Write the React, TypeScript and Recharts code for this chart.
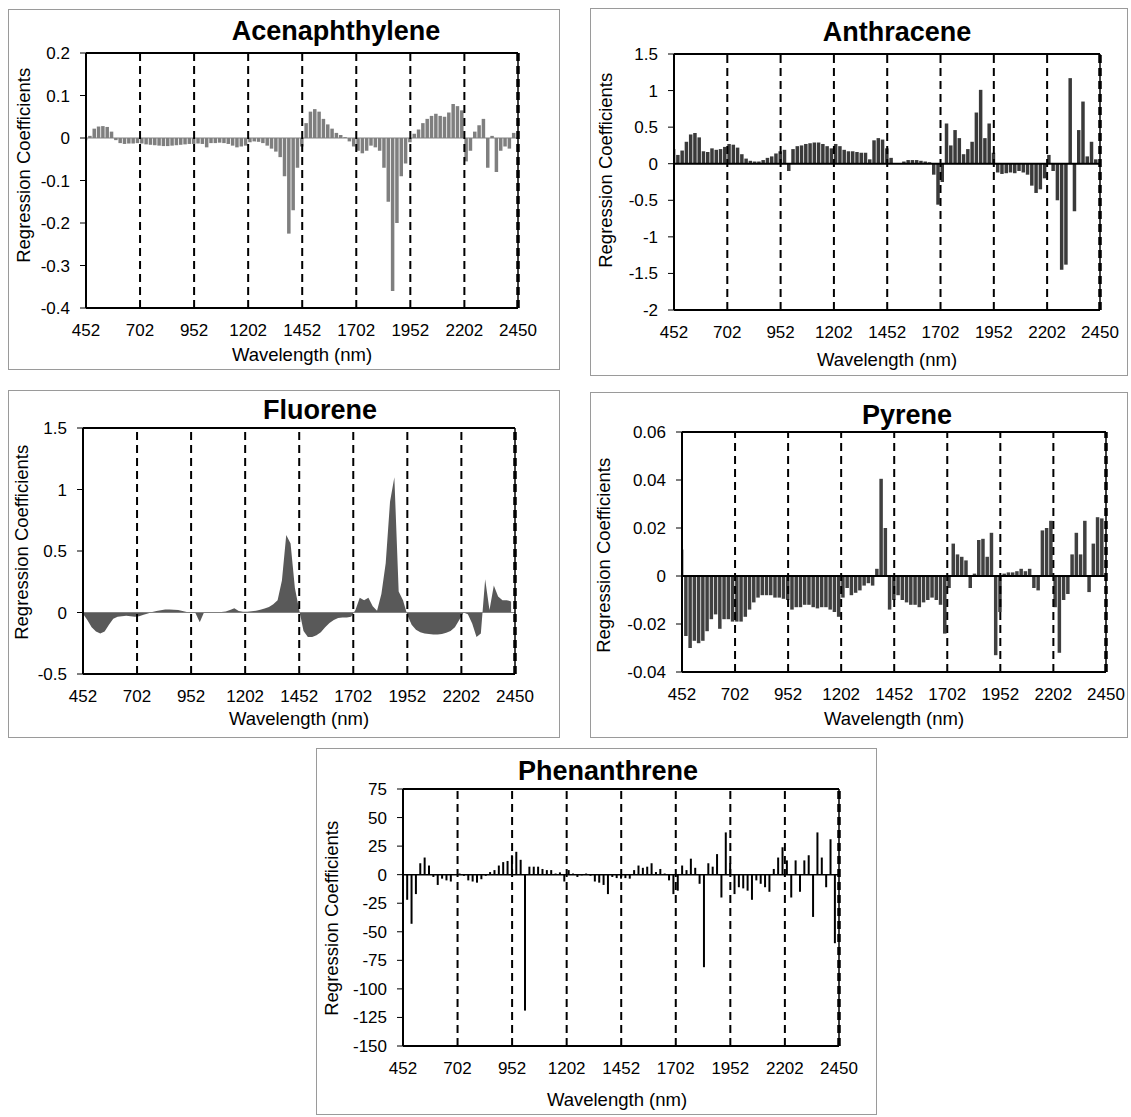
import { Area, AreaChart, Bar, BarChart, ReferenceLine, XAxis, YAxis } from "recharts"

const FONT = "Arial, 'Liberation Sans', sans-serif"

// wavelength grid, 20 nm steps
const WAVELENGTHS = Array.from({ length: 100 }, (_, i) => 452 + i * 20)
const X_TICKS = [452, 702, 952, 1202, 1452, 1702, 1952, 2202, 2450]
const DASHED_AT = [702, 952, 1202, 1452, 1702, 1952, 2202]

const ACENAPHTHYLENE = [
  -0.005, 0.005, 0.022, 0.027, 0.028, 0.026, 0.015, -0.005, -0.012, -0.014,
  -0.013, -0.013, -0.012, -0.013, -0.015, -0.016, -0.017, -0.018, -0.019, -0.019,
  -0.018, -0.017, -0.016, -0.015, -0.014, -0.014, -0.013, -0.014, -0.022, -0.012,
  -0.012, -0.011, -0.012, -0.014, -0.018, -0.022, -0.02, -0.018, -0.01, -0.008,
  -0.009, -0.012, -0.018, -0.025, -0.032, -0.045, -0.09, -0.225, -0.17, -0.07,
  -0.02, 0.035, 0.062, 0.068, 0.062, 0.045, 0.032, 0.022, 0.012, 0.007,
  0.002, -0.008, -0.02, -0.03, -0.036, -0.03, -0.018, -0.022, -0.03, -0.07,
  -0.15, -0.36, -0.2, -0.09, -0.06, -0.01, 0.01, 0.02, 0.035, 0.045,
  0.052, 0.057, 0.052, 0.05, 0.06, 0.08, 0.075, 0.065, -0.055, -0.03,
  0.015, 0.03, 0.045, -0.07, 0.005, -0.08, -0.03, -0.02, -0.025, 0.012,
]
const ANTHRACENE = [
  0.2, 0.12, 0.18, 0.3, 0.4, 0.42, 0.36, 0.17, 0.16, 0.21,
  0.19, 0.2, 0.23, 0.27, 0.26, 0.22, 0.13, 0.07, 0.04, 0.03,
  0.03, 0.05, 0.08, 0.1, 0.14, 0.17, 0.19, -0.1, 0.2, 0.24,
  0.25, 0.27, 0.28, 0.29, 0.29, 0.27, 0.24, 0.21, 0.27, 0.24,
  0.19, 0.17, 0.17, 0.16, 0.15, 0.15, 0.06, 0.32, 0.35, 0.33,
  0.21, 0.08, 0.01, 0.0, 0.03, 0.05, 0.05, 0.05, 0.04, 0.03,
  0.02, -0.15, -0.56, -0.25, 0.55, 0.25, 0.46, 0.35, 0.13, 0.2,
  0.3, 0.7, 1.01, 0.35, 0.55, 0.15, -0.12, -0.14, -0.13, -0.12,
  -0.13, -0.1, -0.12, -0.15, -0.3, -0.4, -0.35, -0.2, 0.12, -0.1,
  -0.5, -1.45, -1.38, 1.17, -0.65, 0.46, 0.85, 0.1, 0.3, 0.06,
]
const FLUORENE = [
  -0.01, -0.06, -0.12, -0.155, -0.17, -0.155, -0.1, -0.05, -0.035, -0.03,
  -0.027, -0.03, -0.035, -0.03, -0.018, -0.008, 0.005, 0.012, 0.018, 0.024,
  0.025, 0.022, 0.02, 0.012, 0.005, 0.0, -0.005, -0.08, 0.002, 0.003,
  0.003, 0.004, 0.005, 0.008, 0.02, 0.035, 0.012, 0.006, 0.006, 0.01,
  0.015, 0.022, 0.032, 0.045, 0.068, 0.1, 0.26, 0.63, 0.56, 0.2,
  0.02, -0.15, -0.2, -0.2, -0.185, -0.16, -0.12, -0.085, -0.06, -0.045,
  -0.04, -0.04, -0.035, 0.02, 0.12, 0.1, 0.12, 0.05, 0.015, 0.15,
  0.4, 0.9, 1.1, 0.17, 0.1, -0.02, -0.1, -0.14, -0.16, -0.17,
  -0.175, -0.178, -0.178, -0.175, -0.165, -0.15, -0.12, -0.06, 0.0, -0.015,
  -0.09, -0.2, -0.17, 0.27, 0.02, 0.22, 0.13, 0.1, 0.1, 0.09,
]
const PYRENE = [
  0.011, -0.025, -0.03, -0.027, -0.028, -0.027, -0.023, -0.018, -0.016, -0.022,
  -0.018, -0.018, -0.019, -0.019, -0.019, -0.017, -0.014, -0.011, -0.009, -0.008,
  -0.008, -0.008, -0.009, -0.009, -0.0095, -0.01, -0.014, -0.013, -0.013, -0.012,
  -0.012, -0.013, -0.0135, -0.013, -0.013, -0.014, -0.015, -0.017, -0.009, -0.005,
  -0.008, -0.007, -0.006, -0.004, -0.003, -0.004, 0.003, 0.0405, 0.02, -0.014,
  -0.01, -0.008, -0.01, -0.011, -0.012, -0.012, -0.013, -0.011, -0.01, -0.009,
  -0.01, -0.012, -0.024, -0.005, 0.0135, 0.009, 0.008, 0.0065, -0.005, 0.001,
  0.015, 0.0155, 0.008, 0.018, -0.033, -0.015, 0.001, 0.0015, 0.0015, 0.002,
  0.003, 0.002, 0.003, -0.005, -0.006, 0.019, 0.02, 0.023, -0.013, -0.032,
  -0.01, -0.0075, 0.009, 0.018, 0.009, 0.023, -0.0067, 0.0135, 0.0245, 0.024,
]
const PHENANTHRENE = [
  43, -22, -43, -17, 10, 15, 8, -2, -9, -3.5,
  -5, -6, 0.5, 1, -1, -5, -6, -7, -4, -1,
  2.3, 4, 8, 11, 12, 17, 20, 13, -119, 7,
  7, 7, 5, 4, 4, 1, 2, -6, 4, 1,
  -2, -0.6, 1, -1, -6, -7, -9, -17, -2, -3,
  -3.5, -3, -3.5, 4, 8, 6, 7, 10, 2.3, 5,
  1, -5, -17, -14, 8, 4, 14, 6, -8, -81,
  10, 7, 18, -20, 37, 10, -17, -11, -12, -14,
  -22, -5, -8, -11, -15, 5, 15, 24, 12.5, -20,
  12.5, -15, 12.5, 17, -37, 37, 15, -11, 31, -60,
]

const ACE_TICKS = [-0.4, -0.3, -0.2, -0.1, 0, 0.1, 0.2]
const ANT_TICKS = [-2, -1.5, -1, -0.5, 0, 0.5, 1, 1.5]
const FLU_TICKS = [-0.5, 0, 0.5, 1, 1.5]
const PYR_TICKS = [-0.04, -0.02, 0, 0.02, 0.04, 0.06]
const PHE_TICKS = [-150, -125, -100, -75, -50, -25, 0, 25, 50, 75]

type Pt = { cx: number; cy: number }
type PanelCfg = {
  title: string
  values: number[]
  yTicks: number[]
  box: { left: number; top: number; width: number; height: number }
  plot: { left: number; top: number; right: number; bottom: number }
  titleAt: Pt
  yLabelAt: Pt
  xLabelAt: Pt
  color: string
  barSize: number
  area?: boolean
  zeroColor: string
  zeroWidth: number
}

const PANELS: PanelCfg[] = [
  {
    title: "Acenaphthylene", values: ACENAPHTHYLENE, yTicks: ACE_TICKS,
    box: { left: 8, top: 9, width: 552, height: 361 },
    plot: { left: 86, top: 53, right: 518, bottom: 308 },
    titleAt: { cx: 336, cy: 31 }, yLabelAt: { cx: 24, cy: 165 }, xLabelAt: { cx: 302, cy: 355 },
    color: "#7f7f7f", barSize: 3.5, zeroColor: "#808080", zeroWidth: 1,
  },
  {
    title: "Anthracene", values: ANTHRACENE, yTicks: ANT_TICKS,
    box: { left: 590, top: 8, width: 538, height: 368 },
    plot: { left: 674, top: 54, right: 1100, bottom: 310 },
    titleAt: { cx: 897, cy: 32 }, yLabelAt: { cx: 606, cy: 170 }, xLabelAt: { cx: 887, cy: 360 },
    color: "#3a3a3a", barSize: 3.5, zeroColor: "#000", zeroWidth: 2,
  },
  {
    title: "Fluorene", values: FLUORENE, yTicks: FLU_TICKS,
    box: { left: 8, top: 390, width: 552, height: 348 },
    plot: { left: 83, top: 428, right: 515, bottom: 674 },
    titleAt: { cx: 320, cy: 410 }, yLabelAt: { cx: 22, cy: 542 }, xLabelAt: { cx: 299, cy: 719 },
    color: "#595959", barSize: 4, area: true, zeroColor: "#808080", zeroWidth: 1,
  },
  {
    title: "Pyrene", values: PYRENE, yTicks: PYR_TICKS,
    box: { left: 590, top: 392, width: 538, height: 346 },
    plot: { left: 682, top: 432, right: 1106, bottom: 672 },
    titleAt: { cx: 907, cy: 415 }, yLabelAt: { cx: 604, cy: 555 }, xLabelAt: { cx: 894, cy: 719 },
    color: "#404040", barSize: 3.5, zeroColor: "#000", zeroWidth: 2,
  },
  {
    title: "Phenanthrene", values: PHENANTHRENE, yTicks: PHE_TICKS,
    box: { left: 316, top: 748, width: 561, height: 367 },
    plot: { left: 403, top: 789, right: 839, bottom: 1046 },
    titleAt: { cx: 608, cy: 771 }, yLabelAt: { cx: 332, cy: 918 }, xLabelAt: { cx: 617, cy: 1100 },
    color: "#000", barSize: 2, zeroColor: "#000", zeroWidth: 1.5,
  },
]

const AXIS_W = 80
const TOP_PAD = 10
const RIGHT_PAD = 30
const X_AXIS_H = 50

function Label({ text, at, size, bold, rotate }: { text: string; at: Pt; size: number; bold?: boolean; rotate?: boolean }) {
  return (
    <div
      style={{
        position: "absolute",
        left: at.cx - 200,
        top: at.cy - size / 2,
        width: 400,
        height: size,
        lineHeight: `${size}px`,
        fontSize: size,
        fontWeight: bold ? "bold" : "normal",
        textAlign: "center",
        whiteSpace: "nowrap",
        transform: rotate ? "rotate(-90deg)" : undefined,
        color: "#000",
      }}
    >
      {text}
    </div>
  )
}

function Panel({ cfg }: { cfg: PanelCfg }) {
  const data = WAVELENGTHS.map((nm, i) => ({ nm, v: cfg.values[i] }))
  const plotW = cfg.plot.right - cfg.plot.left
  const plotH = cfg.plot.bottom - cfg.plot.top
  const yMin = cfg.yTicks[0]
  const yMax = cfg.yTicks[cfg.yTicks.length - 1]
  const Chart = cfg.area ? AreaChart : BarChart
  const tickStyle = { fill: "#000", fontSize: 17, fontFamily: FONT }

  return (
    <>
      <div
        style={{
          position: "absolute",
          left: cfg.box.left,
          top: cfg.box.top,
          width: cfg.box.width,
          height: cfg.box.height,
          border: "1px solid #9a9a9a",
          boxSizing: "border-box",
        }}
      />
      <Label text={cfg.title} at={cfg.titleAt} size={27} bold />
      <Label text="Regression Coefficients" at={cfg.yLabelAt} size={18.5} rotate />
      <Label text="Wavelength (nm)" at={cfg.xLabelAt} size={18.5} />
      <div style={{ position: "absolute", left: cfg.plot.left - AXIS_W, top: cfg.plot.top - TOP_PAD }}>
        <Chart
          width={AXIS_W + plotW + RIGHT_PAD}
          height={TOP_PAD + plotH + X_AXIS_H}
          data={data}
          margin={{ top: TOP_PAD, right: RIGHT_PAD, bottom: 0, left: 0 }}
        >
          <XAxis
            dataKey="nm"
            type="number"
            domain={[452, 2450]}
            ticks={X_TICKS}
            interval={0}
            allowDataOverflow
            height={X_AXIS_H}
            tickLine={false}
            tickSize={6}
            tickMargin={10}
            axisLine={{ stroke: "#000", strokeWidth: 2 }}
            tick={tickStyle}
          />
          <YAxis
            type="number"
            domain={[yMin, yMax]}
            ticks={cfg.yTicks}
            interval={0}
            allowDataOverflow
            width={AXIS_W}
            tickSize={6}
            tickMargin={10}
            tickLine={{ stroke: "#000", strokeWidth: 1 }}
            axisLine={{ stroke: "#000", strokeWidth: 2 }}
            tick={tickStyle}
            tickFormatter={(v) => String(v)}
          />
          {cfg.area ? (
            <Area
              type="linear"
              dataKey="v"
              baseValue={0}
              stroke="none"
              fill={cfg.color}
              fillOpacity={1}
              isAnimationActive={false}
            />
          ) : (
            <Bar dataKey="v" fill={cfg.color} barSize={cfg.barSize} isAnimationActive={false} />
          )}
          <ReferenceLine y={0} stroke={cfg.zeroColor} strokeWidth={cfg.zeroWidth} />
          {DASHED_AT.map((x) => (
            <ReferenceLine key={x} x={x} stroke="#000" strokeWidth={2} strokeDasharray="8 5" />
          ))}
          <ReferenceLine y={yMax} stroke="#000" strokeWidth={2} />
          <ReferenceLine x={2450} stroke="#000" strokeWidth={1.5} />
          <ReferenceLine x={2450} stroke="#000" strokeWidth={3.5} strokeDasharray="8 5" />
        </Chart>
      </div>
    </>
  )
}

export default function App() {
  return (
    <div
      style={{
        position: "absolute",
        left: 0,
        top: 0,
        width: 1131,
        height: 1117,
        background: "#fff",
        fontFamily: FONT,
      }}
    >
      {PANELS.map((p) => (
        <Panel key={p.title} cfg={p} />
      ))}
    </div>
  )
}
